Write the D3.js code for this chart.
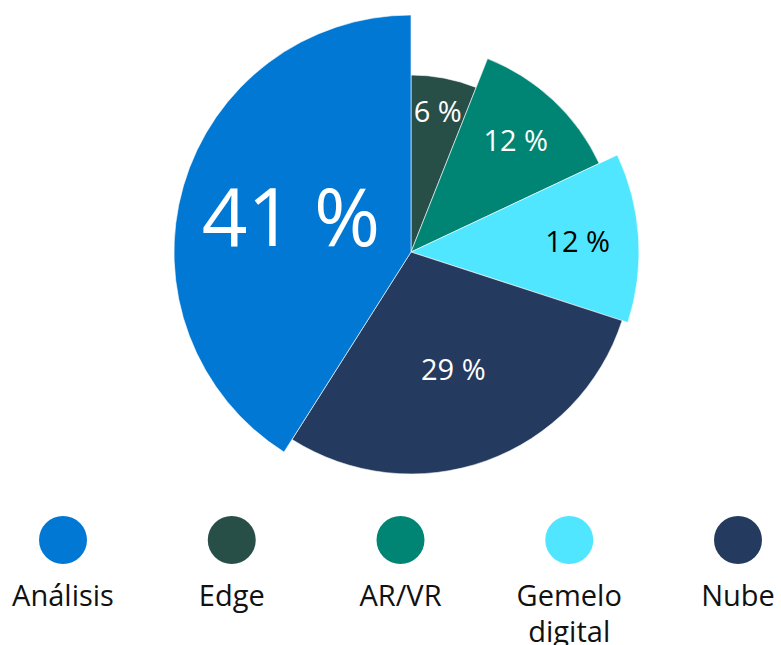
<!DOCTYPE html>
<html>
<head>
<meta charset="utf-8">
<script src="https://cdn.jsdelivr.net/npm/d3@7"></script>
<style>
  body { margin: 0; background: #fff; }
  svg { display: block; font-family: "Open Sans", "Noto Sans", sans-serif; }
</style>
</head>
<body>
<svg id="chart" width="781" height="645"></svg>
<script>
// Datos del gráfico (orden de dibujo en sentido horario desde las 12)
const categories = ["Edge", "AR/VR", "Gemelo digital", "Nube", "Análisis"];
const values = [6, 12, 12, 29, 41];
const labels = ["6 %", "12 %", "12 %", "29 %", "41 %"];
// Orden de la leyenda
const legendOrder = ["Análisis", "Edge", "AR/VR", "Gemelo digital", "Nube"];

const color = d3.scaleOrdinal()
  .domain(categories)
  .range(["#284e48", "#008575", "#50e6ff", "#243a5e", "#0078d4"]);

// Radio exterior de cada porción
const outerR = d3.scaleOrdinal()
  .domain(categories)
  .range([177, 208, 228, 222, 237]);

// Distancia de la etiqueta al centro
const labelR = d3.scaleOrdinal()
  .domain(categories)
  .range([143, 153, 167, 125, 125]);

const labelSize = d3.scaleOrdinal()
  .domain(categories)
  .range([29, 29, 29, 29, 80]);

const labelColor = d3.scaleOrdinal()
  .domain(categories)
  .range(["#fff", "#fff", "#000", "#fff", "#fff"]);

const svg = d3.select("#chart");
const cx = 411, cy = 252;

const pie = d3.pie().sort(null).value((d, i) => values[i]);
const arcs = pie(categories);

const arc = d3.arc()
  .innerRadius(0)
  .outerRadius(d => outerR(d.data));

const g = svg.append("g").attr("transform", `translate(${cx},${cy})`);

g.selectAll("path")
  .data(arcs)
  .enter()
  .append("path")
  .attr("d", arc)
  .attr("fill", d => color(d.data))
  .attr("stroke", "#fff")
  .attr("stroke-width", 0.6);

g.selectAll("text")
  .data(arcs)
  .enter()
  .append("text")
  .attr("transform", d => {
    const r = labelR(d.data);
    const p = d3.arc().innerRadius(r).outerRadius(r).centroid(d);
    return `translate(${p[0]},${p[1]})`;
  })
  .attr("text-anchor", "middle")
  .attr("dy", "0.36em")
  .attr("font-size", d => labelSize(d.data))
  .attr("fill", d => labelColor(d.data))
  .text(d => labels[d.index]);

// Leyenda
const lx = d3.scalePoint()
  .domain(legendOrder)
  .range([63, 738]);

const legend = svg.selectAll(".legend")
  .data(legendOrder)
  .enter()
  .append("g")
  .attr("class", "legend")
  .attr("transform", d => `translate(${lx(d)},0)`);

legend.append("circle")
  .attr("cy", 540)
  .attr("r", 24)
  .attr("fill", d => color(d));

legend.append("text")
  .attr("text-anchor", "middle")
  .attr("font-size", 29)
  .attr("fill", "#111")
  .selectAll("tspan")
  .data(d => d.split(" "))
  .enter()
  .append("tspan")
  .attr("x", 0)
  .attr("y", (d, i) => 606 + i * 36)
  .text(d => d);
</script>
</body>
</html>
